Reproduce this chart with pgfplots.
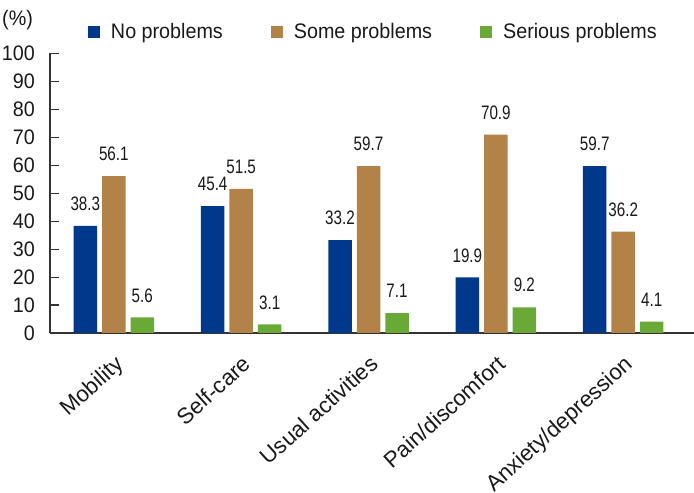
\documentclass[border=0pt]{standalone}
\usepackage{pgfplots}
\pgfplotsset{compat=1.18}
\usepackage{fontspec}
\setmainfont{Liberation Sans}[FakeStretch=0.94]
\newfontfamily\valfam{Liberation Sans}[FakeStretch=0.78]
\newfontfamily\catfam{Liberation Sans}
\definecolor{cblue}{RGB}{0,57,140}
\definecolor{cbrown}{RGB}{178,130,72}
\definecolor{cgreen}{RGB}{105,170,55}
\definecolor{caxis}{RGB}{55,50,50}
\newcommand{\mainsize}{\fontsize{21bp}{24bp}\selectfont}
\newcommand{\valfont}{\valfam\fontsize{19.5bp}{22bp}\selectfont}
\newcommand{\catfont}{\catfam\fontsize{22.3bp}{25bp}\selectfont}
\begin{document}
\begin{tikzpicture}
\path[use as bounding box] (0,0) rectangle (694bp,493bp);
\begin{axis}[
  at={(50bp,160bp)}, anchor=south west,
  scale only axis,
  width=644bp, height=279.7bp,
  xmin=-0.501, xmax=4.556,
  ymin=0, ymax=100,
  ytick={0,10,...,100},
  xtick=data,
  xticklabels={Mobility,Self-care,Usual activities,Pain/discomfort,Anxiety/depression},
  axis x line=bottom, axis y line=left,
  axis line style={-, draw=caxis, line width=1.3bp},
  x axis line style={-},
  y axis line style={-},
  xtick style={draw=none},
  ytick style={draw=caxis, line width=1.1bp},
  tick align=inside,
  major tick length=9bp,
  /pgf/number format/assume math mode=true,
  yticklabel style={font=\mainsize, inner sep=0pt, xshift=-15bp, text=black!90},
  xticklabel style={font=\catfont, rotate=42, anchor=north east, inner sep=0pt, xshift=-8bp, yshift=-9bp, text=black!90},
  ybar=5bp, bar width=23.5bp,
  nodes near coords={\valfont\pgfmathprintnumber[fixed,precision=1,fixed zerofill]{\pgfplotspointmeta}},
  every node near coord/.append style={anchor=center, yshift=22bp, text=black!90},
  legend columns=3,
  legend image code/.code={\fill[#1] (0bp,-6bp) rectangle (12bp,6bp);},
  legend style={draw=none, fill=none, inner sep=0pt, outer sep=0pt,
    at={(axis description cs:0.059,1.076)}, anchor=west,
    font=\mainsize,
    nodes={inner sep=0pt, text=black!90},
    /tikz/every odd column/.append style={column sep=11bp},
    /tikz/every even column/.append style={column sep=48bp}},
]
\addplot[fill=cblue, draw=none] coordinates {(0,38.3) (1,45.4) (2,33.2) (3,19.9) (4,59.7)};
\addplot[fill=cbrown, draw=none] coordinates {(0,56.1) (1,51.5) (2,59.7) (3,70.9) (4,36.2)};
\addplot[fill=cgreen, draw=none] coordinates {(0,5.6) (1,3.1) (2,7.1) (3,9.2) (4,4.1)};
\legend{No problems, Some problems, Serious problems}
\end{axis}
\node[anchor=west, inner sep=0pt, font=\mainsize, text=black!90] at (2bp,473bp) {(\%)};
\end{tikzpicture}
\end{document}
